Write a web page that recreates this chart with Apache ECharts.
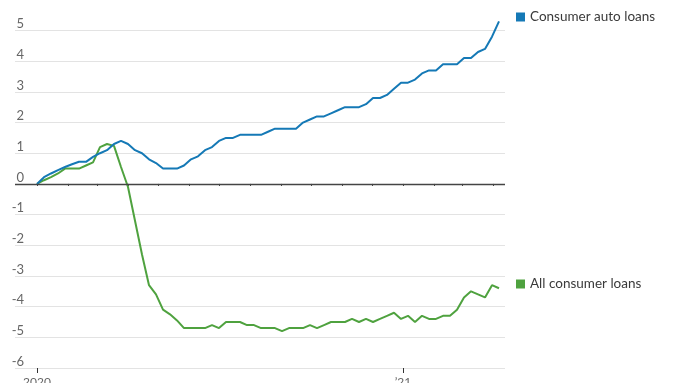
<!DOCTYPE html>
<html>
<head>
<meta charset="utf-8">
<script src="https://cdn.jsdelivr.net/npm/echarts@6/dist/echarts.min.js"></script>
<style>
html,body{margin:0;padding:0;background:#fff;}
#chart{width:680px;height:383px;}
</style>
</head>
<body>
<div id="chart"></div>
<script>
// Weekly observation dates
const dates = [
  '2020-01-01','2020-01-08','2020-01-15','2020-01-22','2020-01-29',
  '2020-02-05','2020-02-12','2020-02-19','2020-02-26',
  '2020-03-04','2020-03-11','2020-03-18','2020-03-25',
  '2020-04-01','2020-04-08','2020-04-15','2020-04-22','2020-04-29',
  '2020-05-06','2020-05-13','2020-05-20','2020-05-27',
  '2020-06-03','2020-06-10','2020-06-17','2020-06-24',
  '2020-07-01','2020-07-08','2020-07-15','2020-07-22','2020-07-29',
  '2020-08-05','2020-08-12','2020-08-19','2020-08-26',
  '2020-09-02','2020-09-09','2020-09-16','2020-09-23','2020-09-30',
  '2020-10-07','2020-10-14','2020-10-21','2020-10-28',
  '2020-11-04','2020-11-11','2020-11-18','2020-11-25',
  '2020-12-02','2020-12-09','2020-12-16','2020-12-23','2020-12-30',
  '2021-01-06','2021-01-13','2021-01-20','2021-01-27',
  '2021-02-03','2021-02-10','2021-02-17','2021-02-24',
  '2021-03-03','2021-03-10','2021-03-17','2021-03-24','2021-03-31',
  '2021-04-07'
];

// Consumer auto loans, % change since Jan 2020
const autoLoans = [
  0, 0.22, 0.34, 0.45, 0.55, 0.64, 0.72, 0.72, 0.88, 1.0,
  1.1, 1.3, 1.4, 1.3, 1.1, 1.0, 0.8, 0.68, 0.5, 0.5,
  0.5, 0.6, 0.8, 0.9, 1.1, 1.2, 1.4, 1.5, 1.5, 1.6,
  1.6, 1.6, 1.6, 1.7, 1.8, 1.8, 1.8, 1.8, 2.0, 2.1,
  2.2, 2.2, 2.3, 2.4, 2.5, 2.5, 2.5, 2.6, 2.8, 2.8,
  2.9, 3.1, 3.3, 3.3, 3.4, 3.6, 3.7, 3.7, 3.9, 3.9,
  3.9, 4.1, 4.1, 4.3, 4.4, 4.8, 5.3
];

// All consumer loans, % change since Jan 2020
const allLoans = [
  0, 0.12, 0.22, 0.34, 0.5, 0.5, 0.5, 0.6, 0.7, 1.2,
  1.3, 1.24, 0.55, -0.1, -1.2, -2.3, -3.3, -3.6, -4.1, -4.25,
  -4.45, -4.7, -4.7, -4.7, -4.7, -4.6, -4.7, -4.5, -4.5, -4.5,
  -4.6, -4.6, -4.7, -4.7, -4.7, -4.8, -4.7, -4.7, -4.7, -4.6,
  -4.7, -4.6, -4.5, -4.5, -4.5, -4.4, -4.5, -4.4, -4.5, -4.4,
  -4.3, -4.2, -4.4, -4.3, -4.5, -4.3, -4.4, -4.4, -4.3, -4.3,
  -4.1, -3.7, -3.5, -3.6, -3.7, -3.3, -3.4
];

// Month-start ticks and labelled year ticks
const monthTicks = [
  '2020-01-01','2020-02-01','2020-03-01','2020-04-01','2020-05-01','2020-06-01',
  '2020-07-01','2020-08-01','2020-09-01','2020-10-01','2020-11-01','2020-12-01',
  '2021-01-01','2021-02-01','2021-03-01','2021-04-01'
];
const yearTicks = ['2020-01-01', '2021-01-01'];
const yearLabels = ['2020', '\u201921'];

const seriesNames = ['Consumer auto loans', 'All consumer loans'];
const colors = ['#1579b6', '#4fa23f'];

// days since 2020-01-01
const day = s => Math.round((Date.parse(s + 'T00:00:00Z') - Date.parse('2020-01-01T00:00:00Z')) / 86400000);
const xMin = -22;
const xMax = 468;
const font = 'Lato, "Liberation Sans", sans-serif';
const yearDays = yearTicks.map(day);

const chart = echarts.init(document.getElementById('chart'), null, {renderer: 'canvas'});
chart.setOption({
  animation: false,
  backgroundColor: '#fff',
  grid: {left: 15, right: 175, top: 30.5, bottom: 15, containLabel: false, outerBoundsMode: 'none'},
  legend: [
    {data: [seriesNames[0]], left: 516, top: 10, padding: 0, icon: 'rect', itemWidth: 9, itemHeight: 9,
     selectedMode: false, textStyle: {fontFamily: font, fontSize: 13.5, color: '#3a3a3a'}},
    {data: [seriesNames[1]], left: 516, top: 277, padding: 0, icon: 'rect', itemWidth: 9, itemHeight: 9,
     selectedMode: false, textStyle: {fontFamily: font, fontSize: 13.5, color: '#3a3a3a'}}
  ],
  xAxis: [
    {
      type: 'value', min: xMin, max: xMax, position: 'bottom', offset: 0,
      axisLine: {show: false},
      axisTick: {show: true, length: 2, customValues: monthTicks.map(day), lineStyle: {color: '#333', width: 1}},
      axisLabel: {show: false},
      splitLine: {show: false}
    },
    {
      type: 'value', min: xMin, max: xMax, position: 'bottom', offset: 0,
      axisLine: {show: false},
      axisTick: {show: true, length: 5, customValues: yearDays, lineStyle: {color: '#333', width: 1}},
      axisLabel: {
        show: true, customValues: yearDays, margin: 8,
        fontFamily: font, fontSize: 12, color: '#666',
        formatter: v => yearLabels[yearDays.indexOf(v)] || ''
      },
      splitLine: {show: false}
    }
  ],
  yAxis: {
    type: 'value', min: -6, max: 5, interval: 1,
    axisLine: {show: false}, axisTick: {show: false},
    axisLabel: {
      inside: true, align: 'right', margin: 9, verticalAlign: 'bottom',
      lineHeight: 13, padding: 0,
      fontFamily: font, fontSize: 13, color: '#666'
    },
    splitLine: {show: true, lineStyle: {color: '#e3e3e3', width: 1}}
  },
  series: [
    {
      name: seriesNames[0], type: 'line', xAxisIndex: 0, showSymbol: false, symbol: 'none',
      clip: false, color: colors[0], lineStyle: {width: 2, color: colors[0]},
      data: dates.map((d, i) => [day(d), autoLoans[i]]),
      markLine: {
        silent: true, symbol: 'none', label: {show: false},
        lineStyle: {color: '#444', width: 1.3, type: 'solid'},
        data: [{yAxis: 0}]
      },
      z: 3
    },
    {
      name: seriesNames[1], type: 'line', xAxisIndex: 0, showSymbol: false, symbol: 'none',
      clip: false, color: colors[1], lineStyle: {width: 2, color: colors[1]},
      data: dates.map((d, i) => [day(d), allLoans[i]]),
      z: 2
    }
  ]
});
</script>
</body>
</html>
